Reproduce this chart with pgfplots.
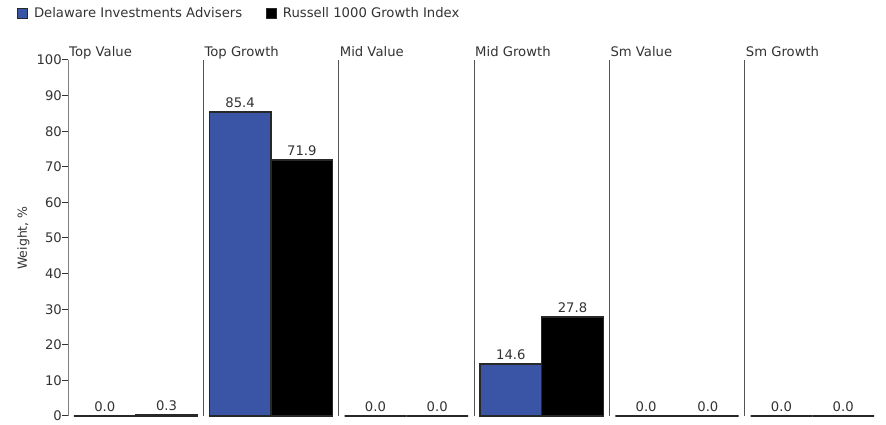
\documentclass[border=0pt]{standalone}
\usepackage{pgfplots}
\pgfplotsset{compat=1.18}
\usepackage{fontspec}
\setmainfont{DejaVu Sans}
\definecolor{dblue}{RGB}{58,85,165}
\definecolor{txt}{RGB}{51,51,51}
\definecolor{bord}{RGB}{40,40,40}
\definecolor{axgray}{RGB}{128,128,128}
\begin{document}
\begin{tikzpicture}[font=\fontsize{13.2}{15}\selectfont]
\begin{axis}[
  name=ax,
  scale only axis, width=812pt, height=356pt,
  xmin=0, xmax=6, ymin=0, ymax=100,
  axis x line=none, axis y line=left,
  axis line style={-, axgray, line width=1pt},
  ytick={0,10,...,100},
  tick align=outside, major tick length=6pt,
  ytick style={txt, line width=1pt},
  yticklabel style={txt, inner sep=0pt, xshift=0pt},
  /pgf/number format/assume math mode=true,
  ylabel={Weight, \%},
  ylabel style={txt, font=\fontsize{12.5}{14}\selectfont, at={(axis description cs:-0.055,0.5)}, anchor=center},
  nodes near coords,
  nodes near coords style={txt, anchor=south, inner sep=3.5pt, /pgf/number format/.cd, fixed, fixed zerofill, precision=1, assume math mode=true},
  legend columns=2,
  legend style={at={(axis description cs:-0.0628,1.132)}, anchor=west, draw=none, fill=none,
    inner sep=0pt, font=\fontsize{13.2}{15}\selectfont, text=txt,
    /tikz/every odd column/.append style={column sep=4pt},
    /tikz/every even column/.append style={column sep=22pt}},
  legend cell align=left,
  legend image code/.code={\draw[#1, line width=0.8pt] (0pt,-5pt) rectangle (10pt,5pt);},
  clip=false,
]
\addplot[ybar, bar width=0.4557, bar shift=0pt, fill=dblue, draw=bord, line width=1.3pt]
  coordinates {(0.272,0.0) (1.272,85.4) (2.272,0.0) (3.272,14.6) (4.272,0.0) (5.272,0.0)};
\addlegendentry{Delaware Investments Advisers}
\addplot[ybar, bar width=0.4557, bar shift=0pt, fill=black, draw=bord, line width=1.3pt]
  coordinates {(0.728,0.3) (1.728,71.9) (2.728,0.0) (3.728,27.8) (4.728,0.0) (5.728,0.0)};
\addlegendentry{Russell 1000 Growth Index}
\foreach \i in {1,...,5}{
  \edef\tmp{\noexpand\draw[bord!80, line width=0.9pt] (axis cs:\i,0) -- (axis cs:\i,100);}
  \tmp
}
\node[txt, anchor=base west, inner sep=1pt] at ([yshift=3pt]axis cs:0,100) {Top Value};
\node[txt, anchor=base west, inner sep=1pt] at ([yshift=3pt]axis cs:1,100) {Top Growth};
\node[txt, anchor=base west, inner sep=1pt] at ([yshift=3pt]axis cs:2,100) {Mid Value};
\node[txt, anchor=base west, inner sep=1pt] at ([yshift=3pt]axis cs:3,100) {Mid Growth};
\node[txt, anchor=base west, inner sep=1pt] at ([yshift=3pt]axis cs:4,100) {Sm Value};
\node[txt, anchor=base west, inner sep=1pt] at ([yshift=3pt]axis cs:5,100) {Sm Growth};
\end{axis}
\pgfresetboundingbox
\path[use as bounding box] ([xshift=-68pt,yshift=-9pt]ax.south west) rectangle ++(886pt,425pt);
\end{tikzpicture}
\end{document}
